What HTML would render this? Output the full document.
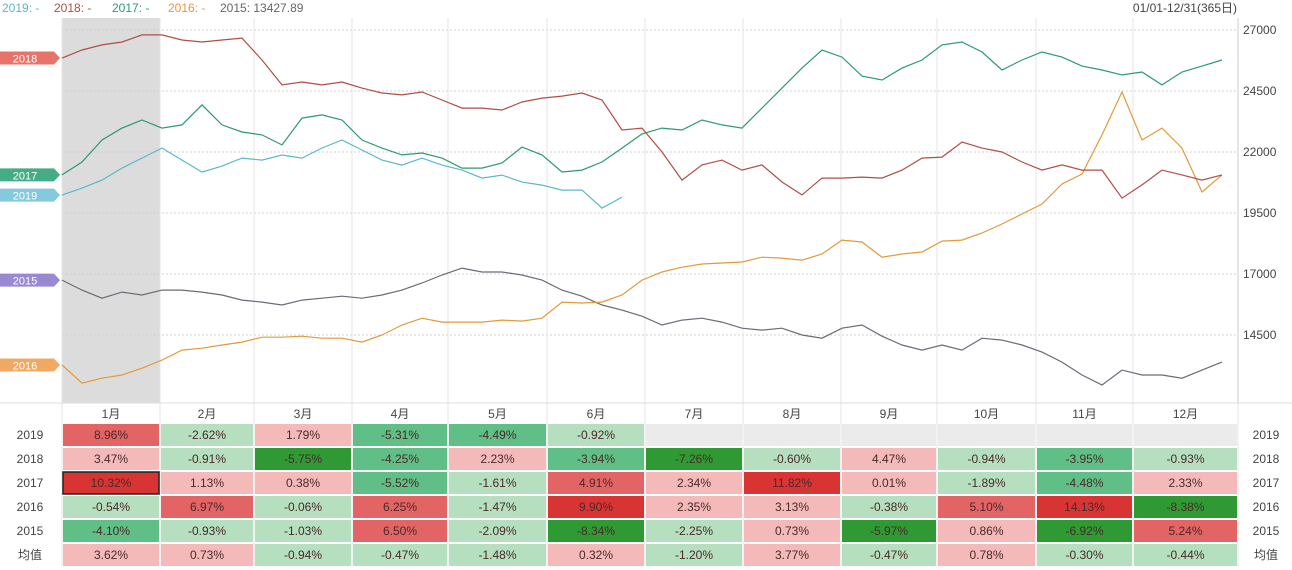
<!DOCTYPE html>
<html><head><meta charset="utf-8">
<style>
body{margin:0;background:#fff;font-family:"Liberation Sans","Noto Sans CJK SC",sans-serif;}
#wrap{position:relative;width:1292px;height:570px;overflow:hidden;background:#fff}
svg text{font-family:"Liberation Sans","Noto Sans CJK SC",sans-serif}
</style></head>
<body>
<div id="wrap">
<svg id="chart" width="1292" height="570"></svg>
</div>
<script>
const months=["1月","2月","3月","4月","5月","6月","7月","8月","9月","10月","11月","12月"];
const yTicks=[27000,24500,22000,19500,17000,14500];
const seriesNames=["2019","2018","2017","2016","2015"];
const legendText=["2019: -","2018: -","2017: -","2016: -","2015: 13427.89"];
const s2019=[20235,20522,20850,21342,21752,22162,21670,21178,21424,21752,21670,21875,21752,22162,22490,22080,21670,21465,21752,21465,21260,20932,21055,20768,20645,20440,20440,19700,20150];
const s2018=[25850,26180,26390,26510,26800,26800,26590,26510,26590,26670,25770,24750,24870,24750,24870,24620,24420,24340,24460,24130,23800,23800,23720,24050,24210,24290,24420,24130,22900,22980,22000,20850,21470,21670,21260,21470,20770,20240,20930,20930,20970,20930,21260,21750,21790,22410,22160,22000,21590,21260,21470,21260,21260,20110,20650,21260,21060,20850,21060];
const s2017=[21060,21590,22490,22980,23310,22980,23110,23930,23110,22820,22700,22290,23390,23520,23310,22490,22160,21880,21960,21750,21340,21340,21550,22200,21880,21180,21260,21590,22160,22740,22980,22900,23310,23110,22980,23800,24620,25440,26180,25890,25110,24950,25440,25770,26390,26510,26100,25360,25770,26100,25890,25520,25360,25160,25280,24750,25280,25520,25770];
const s2016=[13270,12530,12730,12860,13140,13470,13880,13960,14090,14210,14410,14410,14450,14370,14370,14210,14500,14910,15190,15030,15030,15030,15110,15070,15190,15850,15810,15850,16140,16750,17080,17280,17410,17450,17490,17690,17650,17570,17820,18390,18310,17690,17820,17900,18350,18390,18680,19050,19460,19870,20690,21100,22700,24460,22490,22980,22160,20360,21060];
const s2015=[16750,16340,16010,16260,16140,16340,16340,16260,16140,15930,15850,15730,15930,16010,16090,16010,16140,16340,16630,16960,17240,17080,17080,16960,16750,16340,16090,15730,15520,15270,14910,15110,15190,15030,14780,14700,14780,14500,14370,14780,14910,14450,14090,13880,14090,13880,14370,14290,14090,13800,13390,12860,12450,13060,12860,12860,12730,13060,13390];
const allSeries=[s2019,s2018,s2017,s2016,s2015];
const daysPerSample=6.25;
const tableYears=["2019","2018","2017","2016","2015","均值"];
const r2019=[8.96,-2.62,1.79,-5.31,-4.49,-0.92,null,null,null,null,null,null];
const r2018=[3.47,-0.91,-5.75,-4.25,2.23,-3.94,-7.26,-0.60,4.47,-0.94,-3.95,-0.93];
const r2017=[10.32,1.13,0.38,-5.52,-1.61,4.91,2.34,11.82,0.01,-1.89,-4.48,2.33];
const r2016=[-0.54,6.97,-0.06,6.25,-1.47,9.90,2.35,3.13,-0.38,5.10,14.13,-8.38];
const r2015=[-4.10,-0.93,-1.03,6.50,-2.09,-8.34,-2.25,0.73,-5.97,0.86,-6.92,5.24];
const rAvg=[3.62,0.73,-0.94,-0.47,-1.48,0.32,-1.20,3.77,-0.47,0.78,-0.30,-0.44];
const tableRows=[r2019,r2018,r2017,r2016,r2015,rAvg];

const NS="http://www.w3.org/2000/svg";
const svg=document.getElementById('chart');
function mk(tag,attrs,parent){const e=document.createElementNS(NS,tag);for(const k in attrs)e.setAttribute(k,attrs[k]);(parent||svg).appendChild(e);return e;}
const colX=[62,160,254,352,448,547,645,743,841,937,1036,1133,1238];
const plotTop=18,plotBot=403;
const yScale=v=>30+(27000-v)/2500*61;
const xScale=d=>62+d*3.2;
const colors=["#5ab8cc","#b04e46","#2d9a6e","#e39a3a","#6b6b78"];
const labelBg=["#84c9de","#e8736b","#44ad85","#f0a862","#9a88d2"];

let e=mk('rect',{x:62,y:plotTop,width:98,height:plotBot-plotTop,fill:'#dcdcdc'});

yTicks.forEach(t=>{const y=yScale(t);
 let g=mk('line',{x1:62,x2:1238,y1:y,y2:y,stroke:'#d0d0d0','stroke-dasharray':'2,2'});
 
 let tx=mk('text',{x:1243,y:y+4,'font-size':12,fill:'#444'});tx.textContent=t;
 
});
colX.forEach(x=>{let g=mk('line',{x1:x,x2:x,y1:plotTop,y2:566,stroke:'#e6e6e6'});
 });
e=mk('line',{x1:1238,x2:1238,y1:plotTop,y2:plotBot,stroke:'#ccc'});

e=mk('line',{x1:0,x2:1292,y1:plotBot,y2:plotBot,stroke:'#ddd'});


[4,3,0,2,1].forEach(si=>{const d=allSeries[si].map((v,i)=>(i?'L':'M')+xScale(i*daysPerSample).toFixed(1)+','+yScale(v).toFixed(1)).join('');
 let p=mk('path',{d:d,fill:'none',stroke:colors[si],'stroke-width':1.2});
 
 const ly=yScale(allSeries[si][0]);
 let g=mk('g',{});
 mk('path',{d:`M0,${ly-6.5}H54L60,${ly}L54,${ly+6.5}H0Z`,fill:labelBg[si]},g);
 let t=mk('text',{x:25,y:ly+4.5,'font-size':11,fill:'#fff','text-anchor':'middle'},g);t.textContent=seriesNames[si];
});
let lx=2;
legendText.forEach((s,i)=>{let t=mk('text',{x:lx,y:12,'font-size':12,fill:i==4?'#666':colors[i]});t.textContent=s;
 
 lx+= [52,58,56,52,0][i];});
e=mk('text',{x:1237,y:12,'font-size':12,fill:'#444','text-anchor':'end'});e.textContent='01/01-12/31(365日)';


function cellColor(v){if(v===null)return '#ebebeb';if(v>=9)return '#d83434';if(v>=4.5)return '#e26464';if(v>=0)return '#f4b9b9';if(v>-3.5)return '#b5dfbf';if(v>-5.6)return '#5fbf86';return '#2f9a34';}
months.forEach((m,i)=>{let t=mk('text',{x:(colX[i]+colX[i+1])/2,y:418,'font-size':12,fill:'#444','text-anchor':'middle'});t.textContent=m;
 });
const rowY=[423,447,471,495,519,543];
tableRows.forEach((row,ri)=>{const y=rowY[ri];
 let t=mk('text',{x:30,y:y+16,'font-size':12,fill:'#444','text-anchor':'middle'});t.textContent=tableYears[ri];
 
 t=mk('text',{x:1266,y:y+16,'font-size':12,fill:'#444','text-anchor':'middle'});t.textContent=tableYears[ri];
 
 row.forEach((v,ci)=>{const x=colX[ci]+1,w=colX[ci+1]-colX[ci]-2;
  let r=mk('rect',{x:x,y:y+1,width:w,height:22,fill:cellColor(v)});
  
  if(ri==2&&ci==0){r.setAttribute('stroke','#222');r.setAttribute('stroke-width',1.5);}
  if(v!==null){let tt=mk('text',{x:x+w/2,y:y+16,'font-size':12,fill:'#4a2a2a','text-anchor':'middle'});tt.textContent=v.toFixed(2)+'%';
   }
 });
});
</script>
</body></html>
